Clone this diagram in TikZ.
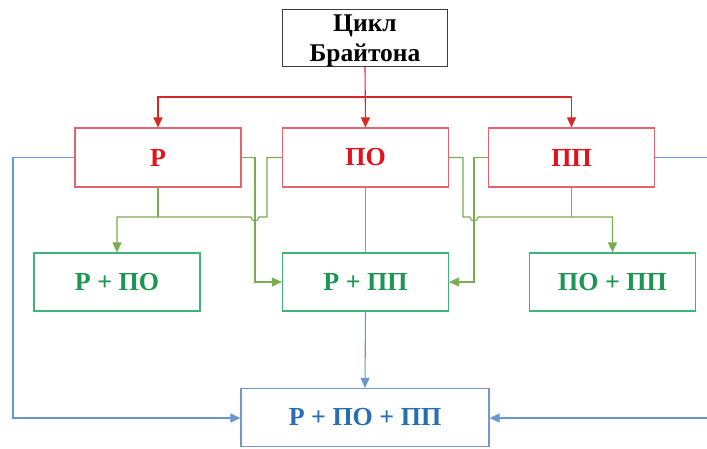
\documentclass[tikz,border=0pt]{standalone}
\usepackage{fontspec}
\setmainfont{Liberation Serif}
\usetikzlibrary{arrows.meta}
\definecolor{redbox}{RGB}{226,100,108}
\definecolor{redtxt}{RGB}{226,18,28}
\definecolor{redln}{RGB}{214,40,40}
\definecolor{grnbox}{RGB}{64,180,118}
\definecolor{grntxt}{RGB}{28,150,82}
\definecolor{grnln}{RGB}{122,172,82}
\definecolor{blubox}{RGB}{118,150,204}
\definecolor{blutxt}{RGB}{40,110,178}
\definecolor{bluln}{RGB}{104,152,210}
\definecolor{topbox}{RGB}{60,60,60}
\begin{document}
\begin{tikzpicture}[x=1pt,y=-1pt,
  txt/.style={inner sep=0pt, align=center, font=\fontsize{26}{30}\selectfont\bfseries},
  box/.style={txt, draw, line width=1.2pt},
  topnode/.style={box, draw=topbox, minimum width=165pt, minimum height=57pt},
  rednode/.style={box, draw=redbox, text=redtxt, minimum width=166pt, minimum height=59pt},
  grnnode/.style={box, draw=grnbox, text=grntxt, minimum width=166pt, minimum height=58pt},
  blunode/.style={box, draw=blubox, text=blutxt, minimum width=248pt, minimum height=58pt},
  tip/.style={-{Triangle[length=10pt,width=9pt]}},
  redarr/.style={draw=redln, line width=1.1pt, tip},
  grnarr/.style={draw=grnln, line width=1.1pt, tip},
  grnline/.style={draw=grnln, line width=1.1pt},
  bluarr/.style={draw=bluln, line width=1.1pt, tip}
]
\useasboundingbox (0,0) rectangle (707,448);
\fill[white] (0,0) rectangle (707,448);

\node[topnode] (top) at (365,38) {};
\node[txt, text=black, font=\fontsize{25.5}{30}\selectfont\bfseries] (toptxt) at (365,40.5) {Цикл\\Брайтона};
\node[rednode] (R)  at (158,157.5) {Р};
\node[rednode] (PO) at (365.5,157.5) {ПО};
\node[rednode] (PP) at (571.5,157.5) {ПП};
\node[grnnode] (RPO)  at (117,282) {Р + ПО};
\node[grnnode] (RPP)  at (365.5,282) {Р + ПП};
\node[grnnode] (POPP) at (612.5,282) {ПО + ПП};
\node[blunode] (ALL) at (365,417.5) {Р + ПО + ПП};

% red connectors
\coordinate (rj) at (365,97);
\draw[redarr] (top.south) -- (PO.north);
\draw[redarr] (rj) -| (R.north);
\draw[redarr] (rj) -| (PP.north);

% green connectors, left group
\coordinate (gL1) at (267,157.5);
\coordinate (gL2) at (267,217);
\coordinate (gLh1) at (259,217);
\coordinate (gLh2) at (251,217);
\coordinate (gRb) at (158,217);
\draw[grnline] (R.south) -- (gRb);
\draw[grnarr] (PO.west) -- (gL1) -- (gL2) -- (gLh1)
  arc[start angle=0, end angle=-180, radius=4pt] -- (gLh2) -| (RPO.north);
\coordinate (gR1) at (255,157.5);
\coordinate (gR2) at (255,282);
\draw[grnarr] (R.east) -- (gR1) -- (gR2) -- (RPP.west);
\draw[grnline] (PO.south) -- (RPP.north);

% green connectors, right group
\coordinate (gP1) at (463,157.5);
\coordinate (gP2) at (463,217);
\coordinate (gPh1) at (470,217);
\coordinate (gPh2) at (478,217);
\coordinate (gPb) at (571.5,217);
\draw[grnline] (PP.south) -- (gPb);
\draw[grnarr] (PO.east) -- (gP1) -- (gP2) -- (gPh1)
  arc[start angle=180, end angle=360, radius=4pt] -- (gPh2) -| (POPP.north);
\coordinate (gQ1) at (474,157.5);
\coordinate (gQ2) at (474,282);
\draw[grnarr] (PP.west) -- (gQ1) -- (gQ2) -- (RPP.east);

% blue connectors
\coordinate (b1) at (13,157.5);
\coordinate (b2) at (13,418);
\draw[bluarr] (R.west) -- (b1) -- (b2) -- (ALL.west |- b2);
\coordinate (b3) at (714,157.5);
\coordinate (b4) at (714,418);
\draw[bluarr] (PP.east) -- (b3) -- (b4) -- (ALL.east |- b4);
\draw[bluarr] (RPP.south) -- (ALL.north);
\end{tikzpicture}
\end{document}
